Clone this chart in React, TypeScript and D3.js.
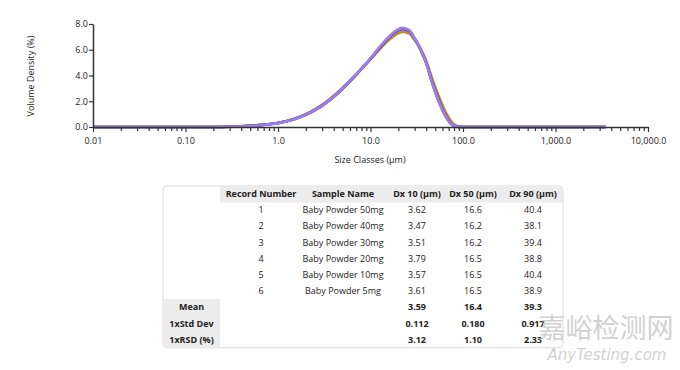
import { useEffect, useRef } from 'react';
import * as d3 from 'd3';

// size classes (µm) shared by all records
const sizeClasses = [
  0.01, 0.1, 0.2, 0.3, 0.5, 0.7, 1, 1.5, 2, 3, 4, 5, 7, 10, 13, 16, 19, 22, 26, 30, 35, 40, 47, 55, 65, 78, 90, 100, 3500,
];

// volume density (%) per record
const series50mg = [0, 0, 0, 0.03, 0.1, 0.18, 0.33, 0.65, 1.0, 1.72, 2.42, 3.05, 4.1, 5.25, 6.15, 6.8, 7.2, 7.38, 7.28, 6.75, 6.05, 5.15, 3.65, 2.35, 1.15, 0.28, 0.04, 0, 0];
const series40mg = [0, 0, 0, 0.02, 0.09, 0.17, 0.31, 0.62, 0.97, 1.67, 2.36, 3.0, 4.08, 5.3, 6.28, 6.98, 7.43, 7.62, 7.48, 6.85, 5.95, 4.95, 3.3, 1.95, 0.8, 0.12, 0, 0, 0];
const series30mg = [0, 0, 0, 0.02, 0.09, 0.17, 0.31, 0.62, 0.97, 1.68, 2.37, 3.0, 4.08, 5.3, 6.27, 6.96, 7.4, 7.6, 7.47, 6.86, 5.98, 5.0, 3.4, 2.05, 0.88, 0.16, 0.01, 0, 0];
const series20mg = [0, 0, 0, 0.02, 0.08, 0.16, 0.3, 0.6, 0.94, 1.64, 2.33, 2.97, 4.06, 5.3, 6.3, 7.0, 7.45, 7.64, 7.5, 6.88, 6.0, 5.0, 3.35, 1.98, 0.82, 0.13, 0, 0, 0];
const series10mg = [0, 0, 0, 0.02, 0.09, 0.17, 0.31, 0.62, 0.96, 1.66, 2.35, 2.99, 4.07, 5.3, 6.28, 6.98, 7.44, 7.63, 7.49, 6.87, 5.97, 4.98, 3.38, 2.02, 0.86, 0.15, 0.01, 0, 0];
const series5mg = [0, 0, 0, 0.02, 0.08, 0.16, 0.3, 0.6, 0.95, 1.65, 2.35, 3.0, 4.1, 5.35, 6.35, 7.05, 7.5, 7.7, 7.55, 6.9, 5.98, 4.98, 3.3, 1.95, 0.82, 0.14, 0, 0, 0];

const seriesColors = ['#c98a22', '#5fbf4a', '#4f82d6', '#b040b8', '#6a42b8', '#9b82ea'];

const xMajorTicks = [0.01, 0.1, 1, 10, 100, 1000, 10000];
const xTickLabels = ['0.01', '0.10', '1.0', '10.0', '100.0', '1,000.0', '10,000.0'];
const yTicks = [0, 2, 4, 6, 8];

// table
const tableHeaders = ['Record Number', 'Sample Name', 'Dx 10 (µm)', 'Dx 50 (µm)', 'Dx 90 (µm)'];
const recordNumbers = ['1', '2', '3', '4', '5', '6'];
const sampleNames = [
  'Baby Powder 50mg',
  'Baby Powder 40mg',
  'Baby Powder 30mg',
  'Baby Powder 20mg',
  'Baby Powder 10mg',
  'Baby Powder 5mg',
];
const dx10 = ['3.62', '3.47', '3.51', '3.79', '3.57', '3.61'];
const dx50 = ['16.6', '16.2', '16.2', '16.5', '16.5', '16.5'];
const dx90 = ['40.4', '38.1', '39.4', '38.8', '40.4', '38.9'];
const summaryLabels = ['Mean', '1xStd Dev', '1xRSD (%)'];
const summaryDx10 = ['3.59', '0.112', '3.12'];
const summaryDx50 = ['16.4', '0.180', '1.10'];
const summaryDx90 = ['39.3', '0.917', '2.33'];

const FONT = "'Open Sans', 'DejaVu Sans', sans-serif";

export default function App() {
  const ref = useRef<SVGSVGElement | null>(null);

  useEffect(() => {
    const svg = d3.select(ref.current);
    svg.selectAll('*').remove();

    const x = d3.scaleLog().domain([0.01, 10000]).range([93, 648]);
    const y = d3.scaleLinear().domain([0, 8]).range([127, 24]);

    const minorTicks: number[] = [];
    for (let e = -2; e < 4; e++) {
      for (let m = 2; m <= 9; m++) minorTicks.push(m * Math.pow(10, e));
    }

    // curves
    const allSeries = [series50mg, series40mg, series30mg, series20mg, series10mg, series5mg];
    const line = d3
      .line<number>()
      .x((_d, i) => x(sizeClasses[i]))
      .y((d) => y(d))
      .curve(d3.curveMonotoneX);

    svg
      .append('g')
      .selectAll('path')
      .data(allSeries)
      .enter()
      .append('path')
      .attr('d', (d) => line(d))
      .attr('fill', 'none')
      .attr('stroke', (_d, i) => seriesColors[i])
      .attr('stroke-width', 2.6)
      .attr('stroke-linejoin', 'round');

    // x axis: minor ticks then major
    const xMinor = svg
      .append('g')
      .attr('transform', `translate(0,${y(0)})`)
      .call(d3.axisBottom(x).tickValues(minorTicks).tickFormat(() => '').tickSize(4).tickSizeOuter(0));
    xMinor.select('.domain').remove();
    xMinor.selectAll('line').attr('stroke', '#333').attr('stroke-width', 1.2);

    const xAxis = svg
      .append('g')
      .attr('transform', `translate(0,${y(0)})`)
      .call(
        d3
          .axisBottom(x)
          .tickValues(xMajorTicks)
          .tickFormat((_d, i) => xTickLabels[i])
          .tickSize(5)
          .tickSizeOuter(0),
      );
    xAxis.select('.domain').attr('stroke', '#333').attr('stroke-width', 1.5);
    xAxis.selectAll('line').attr('stroke', '#333').attr('stroke-width', 1.2);
    xAxis
      .selectAll('text')
      .attr('fill', '#222')
      .style('font-family', FONT)
      .style('font-size', '9px')
      .attr('dy', '0.95em');

    const yAxis = svg
      .append('g')
      .attr('transform', `translate(${x(0.01)},0)`)
      .call(d3.axisLeft(y).tickValues(yTicks).tickFormat(d3.format('.1f')).tickSize(4).tickSizeOuter(0));
    yAxis.select('.domain').attr('stroke', '#333').attr('stroke-width', 1.5);
    yAxis.selectAll('line').attr('stroke', '#333').attr('stroke-width', 1.2);
    yAxis
      .selectAll('text')
      .attr('fill', '#222')
      .attr('x', -5)
      .style('font-family', FONT)
      .style('font-size', '9px');

    // axis titles
    svg
      .append('text')
      .attr('x', 370)
      .attr('y', 163)
      .attr('text-anchor', 'middle')
      .style('font-family', FONT)
      .style('font-size', '9px')
      .attr('fill', '#222')
      .text('Size Classes (µm)');

    svg
      .append('text')
      .attr('transform', 'translate(34,76) rotate(-90)')
      .attr('text-anchor', 'middle')
      .style('font-family', FONT)
      .style('font-size', '9px')
      .attr('fill', '#222')
      .text('Volume Density (%)');

    // table
    const tLeft = 163;
    const tRight = 563;
    const tTop = 186;
    const headH = 16;
    const rowH = 16.2;
    const labelColRight = 220;
    const nRows = recordNumbers.length + summaryLabels.length;
    const tBottom = tTop + headH + nRows * rowH;
    const colCenters = [261, 343, 417, 473, 533];
    const rowY = (i: number) => tTop + headH + i * rowH + rowH / 2;

    const table = svg.append('g').style('font-family', FONT).style('font-size', '9px');

    table
      .append('rect')
      .attr('x', tLeft)
      .attr('y', tTop)
      .attr('width', tRight - tLeft)
      .attr('height', tBottom - tTop)
      .attr('rx', 4)
      .attr('fill', '#fff')
      .attr('stroke', '#d9d9d9');

    table
      .append('rect')
      .attr('x', labelColRight)
      .attr('y', tTop + 0.5)
      .attr('width', tRight - labelColRight - 0.5)
      .attr('height', headH)
      .attr('fill', '#ececec');

    table
      .append('rect')
      .attr('x', tLeft + 0.5)
      .attr('y', tTop + headH + recordNumbers.length * rowH)
      .attr('width', labelColRight - tLeft - 0.5)
      .attr('height', summaryLabels.length * rowH)
      .attr('fill', '#ececec');

    table
      .selectAll('text.head')
      .data(tableHeaders)
      .enter()
      .append('text')
      .attr('x', (_d, i) => colCenters[i])
      .attr('y', tTop + headH / 2)
      .attr('dy', '0.35em')
      .attr('text-anchor', 'middle')
      .attr('font-weight', 'bold')
      .attr('fill', '#222')
      .text((d) => d);

    const rows = recordNumbers.map((r, i) => [r, sampleNames[i], dx10[i], dx50[i], dx90[i]]);
    rows.forEach((row, ri) => {
      row.forEach((cell, ci) => {
        table
          .append('text')
          .attr('x', colCenters[ci])
          .attr('y', rowY(ri))
          .attr('dy', '0.35em')
          .attr('text-anchor', 'middle')
          .attr('fill', '#222')
          .text(cell);
      });
    });

    summaryLabels.forEach((label, si) => {
      const ri = recordNumbers.length + si;
      const vals = [label, summaryDx10[si], summaryDx50[si], summaryDx90[si]];
      const xs = [(tLeft + labelColRight) / 2, colCenters[2], colCenters[3], colCenters[4]];
      vals.forEach((v, k) => {
        table
          .append('text')
          .attr('x', xs[k])
          .attr('y', rowY(ri))
          .attr('dy', '0.35em')
          .attr('text-anchor', 'middle')
          .attr('font-weight', 'bold')
          .attr('fill', '#222')
          .text(v);
      });
    });

    // watermark
    svg
      .append('text')
      .attr('x', 606)
      .attr('y', 338)
      .attr('text-anchor', 'middle')
      .style('font-family', "'Noto Sans CJK SC', sans-serif")
      .style('font-size', '27px')
      .attr('fill', '#cdcdcd')
      .attr('opacity', 0.9)
      .text('嘉峪检测网');

    svg
      .append('text')
      .attr('x', 607)
      .attr('y', 360)
      .attr('text-anchor', 'middle')
      .style('font-family', "'DejaVu Sans', sans-serif")
      .style('font-size', '15px')
      .style('font-style', 'italic')
      .attr('fill', '#d2d2d2')
      .text('AnyTesting.com');
  }, []);

  return (
    <div style={{ position: 'absolute', left: 0, top: 0, width: 680, height: 370, background: '#fff' }}>
      <svg ref={ref} width={680} height={370} />
    </div>
  );
}
